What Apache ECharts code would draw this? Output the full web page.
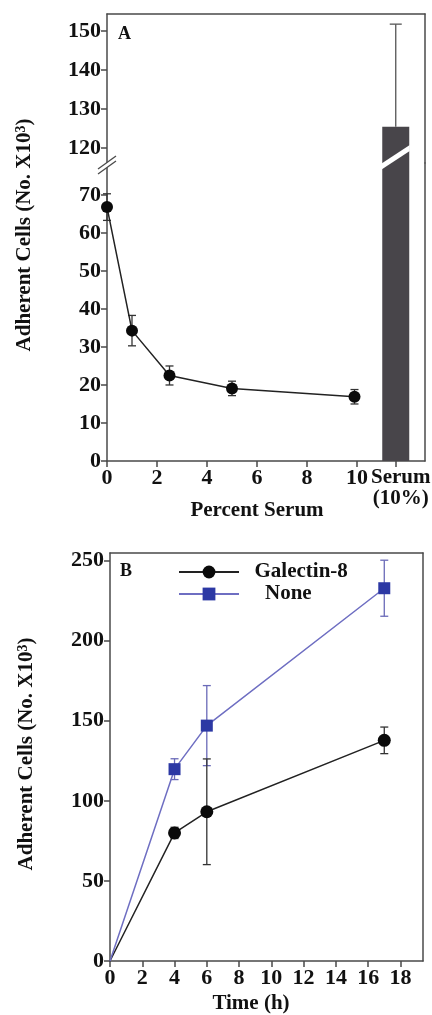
<!DOCTYPE html>
<html><head><meta charset="utf-8">
<script src="https://cdn.jsdelivr.net/npm/echarts@6/dist/echarts.min.js"></script>
<style>html,body{margin:0;padding:0;background:#fff}#c{width:432px;height:1015px}</style>
</head><body><div id="c"></div>
<script>
// ---------- Panel A ----------
const serumPct = [0, 1, 2.5, 5, 9.9];
const serumCells = [66.8, 34.3, 22.5, 19.1, 16.9];
const serumErr = [3.5, 4.0, 2.5, 1.9, 1.9];
const serumBarX = 11.55;
const serumBarLabel = 'Serum\n(10%)';
const serumBarValue = 125.5;
const serumBarErr = 26.3;
const pctTicks = [0, 2, 4, 6, 8, 10];
const aLowTicks = [0, 10, 20, 30, 40, 50, 60, 70];
const aHighTicks = [120, 130, 140, 150];

// ---------- Panel B ----------
const timeH = [0, 4, 6, 17];
const galectin = [0, 80, 93.2, 137.8];
const galectinErr = [0, 3.5, 33, 8.3];
const noneVals = [0, 119.8, 147, 232.8];
const noneErr = [0, 6.5, 25, 17.5];
const timeTicks = [0, 2, 4, 6, 8, 10, 12, 14, 16, 18];
const bTicks = [0, 50, 100, 150, 200, 250];

const FONT = 'Liberation Serif';
const AX = '#4a4a4a';
const lbl = {fontFamily: FONT, fontWeight: 'bold', fontSize: 22, color: '#111'};

function errRender(capW, color) {
  return function (params, api) {
    const x = api.value(0), y = api.value(1), up = api.value(2), dn = api.value(3);
    const t = api.coord([x, y + up]);
    const b = api.coord([x, y - dn]);
    const st = {stroke: color, lineWidth: 1.3};
    const ch = [{type: 'line', shape: {x1: t[0], y1: t[1], x2: b[0], y2: b[1]}, style: st}];
    if (up > 0) ch.push({type: 'line', shape: {x1: t[0] - capW / 2, y1: t[1], x2: t[0] + capW / 2, y2: t[1]}, style: st});
    if (dn > 0) ch.push({type: 'line', shape: {x1: b[0] - capW / 2, y1: b[1], x2: b[0] + capW / 2, y2: b[1]}, style: st});
    return {type: 'group', children: ch};
  };
}

function lineOnly(extra) {
  return Object.assign({
    type: 'value', axisLine: {show: true, onZero: false, lineStyle: {color: AX, width: 1.5}},
    axisTick: {show: false}, axisLabel: {show: false}, splitLine: {show: false}
  }, extra);
}
function ticked(extra, ticks, fmt, labelExtra) {
  return Object.assign({
    type: 'value',
    axisLine: {show: true, onZero: false, lineStyle: {color: AX, width: 1.5}},
    axisTick: {show: true, length: 6, customValues: ticks, lineStyle: {color: AX, width: 1.5}},
    axisLabel: Object.assign({customValues: ticks, margin: 6, formatter: fmt, hideOverlap: false}, lbl, labelExtra || {}),
    splitLine: {show: false}
  }, extra);
}

const chart = echarts.init(document.getElementById('c'), null, {renderer: 'canvas'});

const option = {
  animation: false,
  backgroundColor: '#fff',
  grid: [
    {left: 107, width: 318, top: 14, height: 149, outerBoundsMode: 'none', containLabel: false},
    {left: 107, width: 318, top: 163, height: 298, outerBoundsMode: 'none', containLabel: false},
    {left: 110, width: 313, top: 553, height: 408, outerBoundsMode: 'none', containLabel: false}
  ],
  xAxis: [
    lineOnly({gridIndex: 0, min: 0, max: 12.72, position: 'top'}),
    ticked({gridIndex: 1, min: 0, max: 12.72, position: 'bottom'}, pctTicks, v => String(v)),
    ticked({gridIndex: 2, min: 0, max: 19.4, position: 'bottom'}, timeTicks, v => String(v)),
    lineOnly({gridIndex: 2, min: 0, max: 19.4, position: 'top'}),
    // extra axis carrying only the "Serum (10%)" category tick
    Object.assign(ticked({gridIndex: 1, min: 0, max: 12.72, position: 'bottom'}, [serumBarX], v => serumBarLabel,
      {fontSize: 21, lineHeight: 21, padding: [0, 0, 0, 10]}),
      {axisLine: {show: false}})
  ],
  yAxis: [
    ticked({gridIndex: 0, min: 116.2, max: 154.4, position: 'left'}, aHighTicks, v => String(v)),
    lineOnly({gridIndex: 0, min: 116.2, max: 154.4, position: 'right'}),
    ticked({gridIndex: 1, min: 0, max: 78.4, position: 'left'}, aLowTicks, v => String(v)),
    lineOnly({gridIndex: 1, min: 0, max: 78.4, position: 'right'}),
    ticked({gridIndex: 2, min: 0, max: 254.8, position: 'left'}, bTicks, v => String(v)),
    lineOnly({gridIndex: 2, min: 0, max: 254.8, position: 'right'})
  ],
  legend: {
    data: ['Galectin-8', 'None'],
    orient: 'vertical', left: 178, top: 561, padding: 0,
    itemWidth: 60, itemHeight: 16, itemGap: 0,
    formatter: n => n === 'None' ? '    ' + n : '  ' + n,
    textStyle: {fontFamily: FONT, fontWeight: 'bold', fontSize: 21, lineHeight: 22, color: '#111'}
  },
  series: [
    {type: 'bar', xAxisIndex: 0, yAxisIndex: 0, barWidth: 27, clip: true,
      data: [[serumBarX, serumBarValue]],
      itemStyle: {color: '#48454a'}, z: 2},
    {type: 'bar', xAxisIndex: 1, yAxisIndex: 2, barWidth: 27, clip: true,
      data: [[serumBarX, serumBarValue]],
      itemStyle: {color: '#48454a'}, z: 2},
    {type: 'custom', xAxisIndex: 0, yAxisIndex: 0, renderItem: errRender(12, '#555'),
      data: [[serumBarX, serumBarValue, serumBarErr, 0]], z: 1},
    {type: 'custom', xAxisIndex: 1, yAxisIndex: 2, renderItem: errRender(8, '#333'),
      data: serumPct.map((x, i) => [x, serumCells[i], serumErr[i], serumErr[i]]), z: 3},
    {type: 'line', name: 'A', xAxisIndex: 1, yAxisIndex: 2,
      data: serumPct.map((x, i) => [x, serumCells[i]]),
      symbol: 'circle', symbolSize: 12,
      itemStyle: {color: '#0a0a0a'}, lineStyle: {color: '#222', width: 1.5}, z: 4},
    {type: 'custom', xAxisIndex: 2, yAxisIndex: 4, renderItem: errRender(8, '#6a6ab8'),
      data: timeH.map((x, i) => [x, noneVals[i], noneErr[i], noneErr[i]]), z: 3},
    {type: 'custom', xAxisIndex: 2, yAxisIndex: 4, renderItem: errRender(8, '#333'),
      data: timeH.map((x, i) => [x, galectin[i], galectinErr[i], galectinErr[i]]), z: 3},
    {type: 'line', name: 'Galectin-8', xAxisIndex: 2, yAxisIndex: 4,
      data: timeH.map((x, i) => [x, galectin[i]]),
      symbol: 'circle', symbolSize: 13,
      itemStyle: {color: '#0a0a0a'}, lineStyle: {color: '#222', width: 1.5}, z: 4},
    {type: 'line', name: 'None', xAxisIndex: 2, yAxisIndex: 4,
      data: timeH.map((x, i) => [x, noneVals[i]]),
      symbol: 'rect', symbolSize: 12,
      itemStyle: {color: '#2c38a4'}, lineStyle: {color: '#6e6ec2', width: 1.5}, z: 4}
  ]
};
option.series[7].data[0] = {value: [timeH[0], galectin[0]], symbol: 'none'};
option.series[8].data[0] = {value: [timeH[0], noneVals[0]], symbol: 'none'};
chart.setOption(option);

const gA = chart.convertToPixel({xAxisIndex: 1, yAxisIndex: 2}, [0, 78.4]);
const bb = chart.convertToPixel({xAxisIndex: 1, yAxisIndex: 2}, [serumBarX, 78.4]);
const ax = gA[0], ay = gA[1];
const bx = bb[0];
const titleStyle = {
  text: 'Adherent Cells (No. X10{s|3})',
  fontFamily: FONT, fontWeight: 'bold', fontSize: 21, fill: '#111',
  align: 'center', verticalAlign: 'middle',
  rich: {s: {fontFamily: FONT, fontWeight: 'bold', fontSize: 14, fill: '#111', verticalAlign: 'top', padding: [0, 0, 8, 0]}}
};
chart.setOption({
  graphic: [
    {type: 'polygon', z: 100, shape: {points: [[ax - 9, ay + 6], [ax + 9, ay - 7], [ax + 9, ay - 2], [ax - 9, ay + 11]]},
      style: {fill: '#fff'}},
    {type: 'line', z: 101, shape: {x1: ax - 9, y1: ay + 6, x2: ax + 9, y2: ay - 7}, style: {stroke: AX, lineWidth: 1.3}},
    {type: 'line', z: 101, shape: {x1: ax - 9, y1: ay + 11, x2: ax + 9, y2: ay - 2}, style: {stroke: AX, lineWidth: 1.3}},
    {type: 'polygon', z: 100, shape: {points: [[bx - 18, ay + 3], [bx + 14, ay - 18], [bx + 14, ay - 12], [bx - 18, ay + 9]]},
      style: {fill: '#fff'}},
    {type: 'text', z: 100, x: 118, y: 34, style: {text: 'A', fontFamily: FONT, fontWeight: 'bold', fontSize: 18, fill: '#111', align: 'left', verticalAlign: 'middle'}},
    {type: 'text', z: 100, x: 120, y: 571, style: {text: 'B', fontFamily: FONT, fontWeight: 'bold', fontSize: 18, fill: '#111', align: 'left', verticalAlign: 'middle'}},
    {type: 'text', z: 100, x: 25, y: 235, rotation: Math.PI / 2, style: titleStyle},
    {type: 'text', z: 100, x: 27, y: 754, rotation: Math.PI / 2, style: titleStyle},
    {type: 'text', z: 100, x: 257, y: 511, style: {text: 'Percent Serum', fontFamily: FONT, fontWeight: 'bold', fontSize: 21, fill: '#111', align: 'center', verticalAlign: 'middle'}},
    {type: 'text', z: 100, x: 251, y: 1004, style: {text: 'Time (h)', fontFamily: FONT, fontWeight: 'bold', fontSize: 21, fill: '#111', align: 'center', verticalAlign: 'middle'}}
  ]
});
</script></body></html>
